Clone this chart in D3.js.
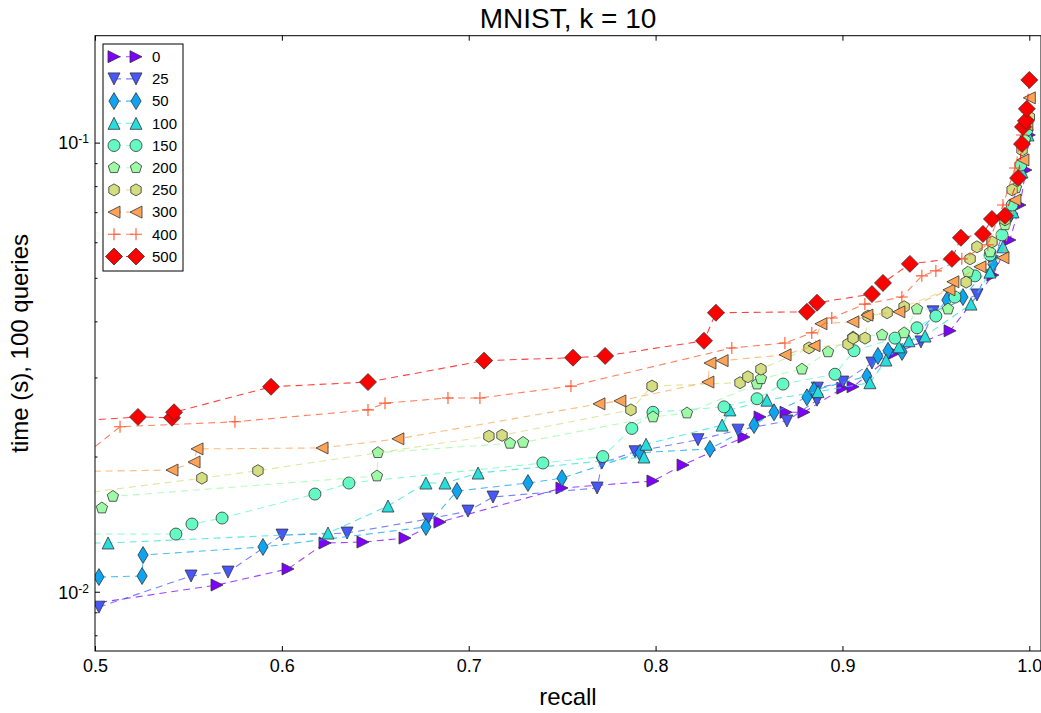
<!DOCTYPE html>
<html>
<head>
<meta charset="utf-8">
<script src="https://cdn.jsdelivr.net/npm/d3@7"></script>
<style>
body { margin: 0; background: #fff; }
text { font-family: "Liberation Sans", Arial, sans-serif; fill: #000; }
</style>
</head>
<body>
<div id="chart"></div>
<script>
// series names (legend labels)
const seriesNames = ["0", "25", "50", "100", "150", "200", "250", "300", "400", "500"];
const markerTypes = [">", "v", "d", "^", "o", "p", "h", "<", "+", "D"];

// recall / time (s) per series
const recall_0 = [0.490, 0.5653, 0.6033, 0.6231, 0.6434, 0.6659, 0.6846, 0.7499, 0.7986, 0.8147, 0.8473, 0.8559, 0.8698, 0.8794, 0.9002, 0.9057, 0.9281, 0.9576, 0.9805, 0.9896, 0.9950, 0.9982, 1.0];
const time_0 = [0.0093, 0.01035, 0.01124, 0.01284, 0.0129, 0.01317, 0.01429, 0.01702, 0.01764, 0.01915, 0.0221, 0.0245, 0.0251, 0.0251, 0.0284, 0.0286, 0.0340, 0.0381, 0.0507, 0.0607, 0.0726, 0.0869, 0.104];

const recall_25 = [0.5021, 0.5514, 0.5712, 0.6001, 0.6349, 0.6782, 0.6996, 0.7130, 0.7687, 0.7713, 0.7890, 0.8227, 0.8441, 0.8703, 0.8864, 0.8866, 0.9002, 0.9158, 0.9420, 0.9485, 0.9720, 0.9800, 0.9886, 0.9940, 0.9982];
const time_25 = [0.00924, 0.01084, 0.01106, 0.01337, 0.01351, 0.01451, 0.01512, 0.01625, 0.01702, 0.01935, 0.0205, 0.0218, 0.0229, 0.0240, 0.0267, 0.0284, 0.0293, 0.0323, 0.0360, 0.0420, 0.0458, 0.0543, 0.0666, 0.0818, 0.1004];

const recall_50 = [0.5021, 0.5252, 0.5257, 0.5899, 0.6771, 0.6937, 0.7317, 0.7499, 0.7917, 0.8291, 0.8527, 0.8634, 0.8810, 0.8848, 0.9131, 0.9190, 0.9244, 0.9319, 0.9559, 0.9645, 0.9805, 0.9896, 0.9950, 0.9987];
const time_50 = [0.01078, 0.01084, 0.01207, 0.01258, 0.01394, 0.01676, 0.01746, 0.0179, 0.0204, 0.0208, 0.0235, 0.0251, 0.0271, 0.0281, 0.0302, 0.0335, 0.0344, 0.0342, 0.0446, 0.0453, 0.0537, 0.0690, 0.0847, 0.1024];

const recall_100 = [0.48, 0.5070, 0.6247, 0.6568, 0.6771, 0.6873, 0.7050, 0.7938, 0.7949, 0.8356, 0.8398, 0.8596, 0.8869, 0.9147, 0.9233, 0.9302, 0.9356, 0.9442, 0.9688, 0.9790, 0.9859, 0.9913, 0.9961, 0.9993];
const time_100 = [0.01284, 0.01284, 0.01351, 0.01552, 0.01746, 0.01746, 0.01838, 0.01995, 0.0213, 0.0235, 0.0254, 0.0267, 0.0279, 0.0292, 0.0328, 0.0351, 0.0362, 0.0371, 0.0437, 0.0515, 0.0586, 0.0701, 0.0860, 0.1040];

const recall_150 = [0.48, 0.5433, 0.5519, 0.5680, 0.6177, 0.6359, 0.7397, 0.7718, 0.7873, 0.7986, 0.8366, 0.8543, 0.8682, 0.8960, 0.9062, 0.9281, 0.9399, 0.9500, 0.9602, 0.9709, 0.9790, 0.9854, 0.9908, 0.9955, 0.9987];
const time_150 = [0.01344, 0.01344, 0.01415, 0.01459, 0.0165, 0.01746, 0.01935, 0.0200, 0.0231, 0.0251, 0.0258, 0.0269, 0.0290, 0.0305, 0.0344, 0.0367, 0.0387, 0.0411, 0.0453, 0.0505, 0.0562, 0.0623, 0.0726, 0.0892, 0.1067];

const recall_200 = [0.5037, 0.5096, 0.6509, 0.6514, 0.7221, 0.7291, 0.7986, 0.8168, 0.8543, 0.8564, 0.8783, 0.8923, 0.9057, 0.9212, 0.9330, 0.9399, 0.9565, 0.9672, 0.9790, 0.9870, 0.9929, 0.9977];
const time_200 = [0.01536, 0.0163, 0.0181, 0.0204, 0.0214, 0.0215, 0.0245, 0.0250, 0.0290, 0.0298, 0.0313, 0.0342, 0.0369, 0.0373, 0.0377, 0.0426, 0.0426, 0.0515, 0.0571, 0.0656, 0.0793, 0.1014];

const recall_250 = [0.48, 0.5572, 0.5872, 0.7108, 0.7178, 0.7868, 0.7981, 0.8452, 0.8494, 0.8564, 0.8821, 0.9030, 0.9057, 0.9121, 0.9137, 0.9239, 0.9330, 0.9662, 0.9683, 0.9720, 0.9800, 0.9870, 0.9908, 0.9961, 1.0];
const time_250 = [0.0163, 0.0179, 0.0186, 0.0222, 0.0223, 0.0254, 0.0287, 0.0292, 0.0301, 0.0313, 0.0349, 0.0356, 0.0367, 0.0367, 0.0411, 0.0418, 0.0431, 0.0489, 0.0551, 0.0586, 0.0601, 0.0673, 0.0785, 0.0963, 0.114];

const recall_300 = [0.48, 0.5412, 0.5530, 0.5546, 0.6215, 0.6621, 0.7697, 0.7809, 0.8280, 0.8291, 0.8356, 0.8693, 0.8848, 0.8885, 0.9056, 0.9131, 0.9302, 0.9570, 0.9591, 0.9736, 0.9859, 0.9923, 0.9966, 0.9987, 1.0];
const time_300 = [0.0185, 0.01866, 0.01945, 0.0208, 0.0209, 0.0219, 0.0262, 0.0266, 0.0293, 0.0323, 0.0327, 0.0337, 0.0353, 0.0395, 0.0399, 0.0413, 0.0420, 0.0470, 0.0490, 0.0529, 0.0554, 0.0745, 0.0915, 0.1095, 0.1258];

const recall_400 = [0.49, 0.5134, 0.5749, 0.6461, 0.6552, 0.6889, 0.7060, 0.7547, 0.8408, 0.8692, 0.8836, 0.8943, 0.9120, 0.9318, 0.9425, 0.9500, 0.9639, 0.9778, 0.9859, 0.9923, 0.9961, 0.9987];
const time_400 = [0.0195, 0.0233, 0.0239, 0.0254, 0.0263, 0.0270, 0.0270, 0.0287, 0.0349, 0.0358, 0.0377, 0.0407, 0.0437, 0.0453, 0.0505, 0.0518, 0.0551, 0.0592, 0.0726, 0.0878, 0.1040, 0.117];

const recall_500 = [0.47, 0.5230, 0.5412, 0.5423, 0.5942, 0.6461, 0.7082, 0.7558, 0.7730, 0.8259, 0.8323, 0.8810, 0.8864, 0.9158, 0.9217, 0.9361, 0.9586, 0.9634, 0.9752, 0.9800, 0.9870, 0.9940, 0.9961, 0.9966, 0.9982, 0.9987, 1.0];
const time_500 = [0.0237, 0.0245, 0.0244, 0.0251, 0.0286, 0.0293, 0.0327, 0.0332, 0.0335, 0.0362, 0.0418, 0.0420, 0.0440, 0.0460, 0.0487, 0.0537, 0.0551, 0.0614, 0.0626, 0.0676, 0.0687, 0.0834, 0.0993, 0.1084, 0.1118, 0.1189, 0.1379];

const recalls = [recall_0, recall_25, recall_50, recall_100, recall_150, recall_200, recall_250, recall_300, recall_400, recall_500];
const times = [time_0, time_25, time_50, time_100, time_150, time_200, time_250, time_300, time_400, time_500];

const xTicks = [0.5, 0.6, 0.7, 0.8, 0.9, 1.0];
const yMajorTicks = [0.01, 0.1];
const yMinorTicks = [0.008, 0.009, 0.02, 0.03, 0.04, 0.05, 0.06, 0.07, 0.08, 0.09];

const svgWidth = 1041;
const svgHeight = 713;
const plot = { left: 95, right: 1041, top: 35.7, bottom: 651 };

const svg = d3.select("#chart")
    .append("svg")
    .attr("width", svgWidth)
    .attr("height", svgHeight);

const xScale = d3.scaleLinear()
    .domain([0.5, 1.00626])
    .range([plot.left, plot.right]);

const yScale = d3.scaleLog()
    .domain([0.00738, 0.173])
    .range([plot.bottom, plot.top]);

// matplotlib "rainbow" colormap
function rainbow(t) {
    const c = v => Math.round(Math.max(0, Math.min(1, v)) * 255);
    return d3.rgb(c(Math.abs(2 * t - 0.5)), c(Math.sin(Math.PI * t)), c(Math.cos(Math.PI * t / 2))).formatHex();
}
const colors = seriesNames.map((_, i) => rainbow(i / (seriesNames.length - 1)));

const ms = 12;
function polygon(n, r) {
    const pts = d3.range(n).map(k => {
        const a = -Math.PI / 2 + k * 2 * Math.PI / n;
        return [r * Math.cos(a), r * Math.sin(a)];
    });
    return "M" + pts.map(p => p.join(",")).join("L") + "Z";
}
function markerPath(type) {
    const h = ms / 2;
    const a = h * Math.SQRT2;
    switch (type) {
        case ">": return `M${h},0L${-h},${-h}L${-h},${h}Z`;
        case "<": return `M${-h},0L${h},${-h}L${h},${h}Z`;
        case "^": return `M0,${-h}L${-h},${h}L${h},${h}Z`;
        case "v": return `M0,${h}L${-h},${-h}L${h},${-h}Z`;
        case "d": return `M0,${-a}L${0.6 * a},0L0,${a}L${-0.6 * a},0Z`;
        case "D": return `M0,${-a}L${a},0L0,${a}L${-a},0Z`;
        case "o": return `M${h},0A${h},${h} 0 1,1 ${-h},0A${h},${h} 0 1,1 ${h},0Z`;
        case "p": return polygon(5, h);
        case "h": return polygon(6, h);
        case "+": return `M${-h},0H${h}M0,${-h}V${h}`;
    }
}
function drawMarker(g, type, color) {
    const p = g.append("path").attr("d", markerPath(type));
    if (type === "+") {
        p.attr("fill", "none").attr("stroke", color).attr("stroke-width", 1.1);
    } else {
        p.attr("fill", color).attr("stroke", "#333").attr("stroke-width", 0.8);
    }
}

svg.append("clipPath").attr("id", "clip")
    .append("rect")
    .attr("x", plot.left).attr("y", plot.top)
    .attr("width", plot.right - plot.left).attr("height", plot.bottom - plot.top);

const chart = svg.append("g").attr("clip-path", "url(#clip)");

const line = d3.line()
    .x(d => xScale(d[0]))
    .y(d => yScale(d[1]));

seriesNames.forEach((name, i) => {
    const pts = recalls[i].map((r, j) => [r, times[i][j]]);
    const g = chart.append("g");
    g.append("path")
        .datum(pts)
        .attr("d", line)
        .attr("fill", "none")
        .attr("stroke", colors[i])
        .attr("stroke-opacity", 0.75)
        .attr("stroke-width", 1.1)
        .attr("stroke-dasharray", "7,5");
    pts.forEach(p => {
        const m = g.append("g").attr("transform", `translate(${xScale(p[0])},${yScale(p[1])})`);
        drawMarker(m, markerTypes[i], colors[i]);
    });
});

// axes (ticks inward, like matplotlib classic)
const xBottom = svg.append("g")
    .attr("transform", `translate(0,${plot.bottom})`)
    .call(d3.axisBottom(xScale).tickValues(xTicks).tickFormat(d3.format(".1f")).tickSize(-5).tickPadding(8));
svg.append("g")
    .attr("transform", `translate(0,${plot.top})`)
    .call(d3.axisTop(xScale).tickValues(xTicks).tickFormat("").tickSize(-5));
const yLeft = svg.append("g")
    .attr("transform", `translate(${plot.left},0)`)
    .call(d3.axisLeft(yScale).tickValues(yMajorTicks).tickSize(-5).tickPadding(6));
svg.append("g")
    .attr("transform", `translate(${plot.left},0)`)
    .call(d3.axisLeft(yScale).tickValues(yMinorTicks).tickFormat("").tickSize(-2.5));

svg.selectAll(".domain").remove();
svg.selectAll(".tick line").attr("stroke", "#000");
xBottom.selectAll(".tick text").attr("font-size", "18px").attr("font-family", "Liberation Sans, Arial, sans-serif");

yLeft.selectAll(".tick text").each(function(d) {
    const t = d3.select(this);
    t.text(null)
        .attr("font-size", "18px")
        .attr("font-family", "Liberation Sans, Arial, sans-serif")
        .attr("dy", "0.35em");
    t.append("tspan").text("10");
    t.append("tspan").attr("dy", "-0.5em").attr("font-size", "12px").text(String(Math.round(Math.log10(d))));
});

// frame
svg.append("rect")
    .attr("x", plot.left).attr("y", plot.top)
    .attr("width", plot.right - plot.left).attr("height", plot.bottom - plot.top)
    .attr("fill", "none").attr("stroke", "#000").attr("stroke-width", 1);

// titles
svg.append("text")
    .attr("x", (plot.left + plot.right) / 2)
    .attr("y", 28)
    .attr("text-anchor", "middle")
    .style("font-size", "28px")
    .text("MNIST, k = 10");

svg.append("text")
    .attr("x", (plot.left + plot.right) / 2)
    .attr("y", 705)
    .attr("text-anchor", "middle")
    .style("font-size", "24px")
    .text("recall");

svg.append("text")
    .attr("transform", `translate(28,${(plot.top + plot.bottom) / 2}) rotate(-90)`)
    .attr("text-anchor", "middle")
    .style("font-size", "24px")
    .text("time (s), 100 queries");

// legend
const legend = svg.append("g");
legend.append("rect")
    .attr("x", 103).attr("y", 44)
    .attr("width", 80).attr("height", 227)
    .attr("fill", "#fff").attr("stroke", "#000").attr("stroke-width", 1);

seriesNames.forEach((name, i) => {
    const y = 56.7 + i * 22.2;
    const row = legend.append("g").attr("transform", `translate(0,${y})`);
    row.append("line")
        .attr("x1", 114).attr("x2", 136)
        .attr("stroke", colors[i])
        .attr("stroke-opacity", 0.75)
        .attr("stroke-width", 1.1)
        .attr("stroke-dasharray", "7,5");
    drawMarker(row.append("g").attr("transform", "translate(114,0)"), markerTypes[i], colors[i]);
    drawMarker(row.append("g").attr("transform", "translate(136,0)"), markerTypes[i], colors[i]);
    row.append("text")
        .attr("x", 152)
        .attr("dy", "0.35em")
        .style("font-size", "15px")
        .text(name);
});
</script>
</body>
</html>
